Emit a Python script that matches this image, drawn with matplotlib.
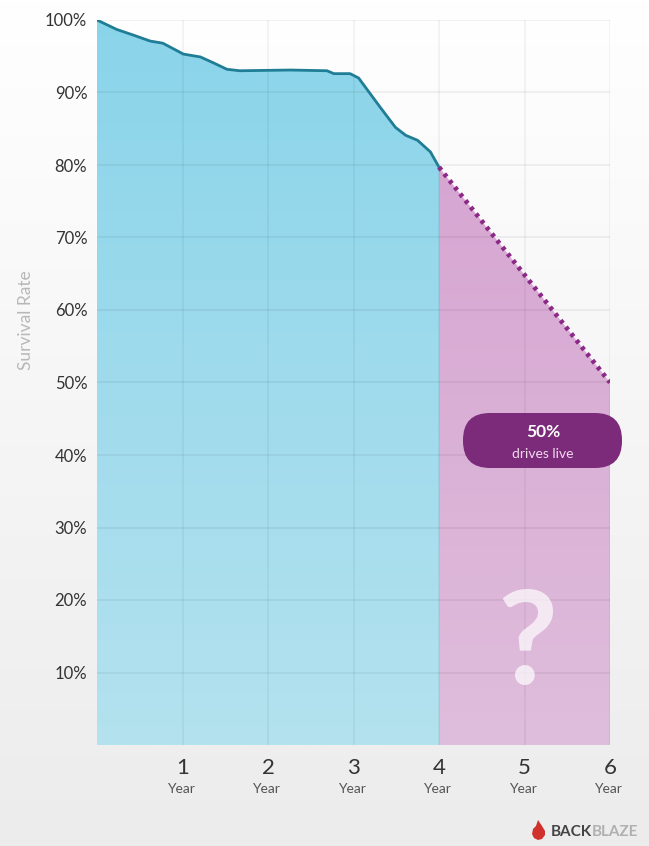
import matplotlib
matplotlib.use("Agg")
import matplotlib.pyplot as plt
import numpy as np
from matplotlib.colors import LinearSegmentedColormap
from matplotlib.patches import FancyBboxPatch, Polygon

plt.rcParams["font.family"] = ["Lato", "DejaVu Sans"]

# observed survival curve, first four years
years = [0, 0.23, 0.43, 0.62, 0.77, 1.01, 1.21, 1.36, 1.52, 1.67, 2.26, 2.69,
         2.77, 2.96, 3.06, 3.31, 3.49, 3.61, 3.75, 3.90, 4.0]
survival = [100, 98.7, 97.9, 97.1, 96.8, 95.3, 94.9, 94.1, 93.2, 93.0, 93.1,
            93.0, 92.6, 92.6, 92.0, 88.0, 85.2, 84.1, 83.4, 81.8, 79.7]

# projected part
proj_years = [4, 6]
proj_survival = [79.7, 50]

y_ticks = [10, 20, 30, 40, 50, 60, 70, 80, 90, 100]
x_ticks = [1, 2, 3, 4, 5, 6]

W, H = 649, 846
fig = plt.figure(figsize=(W / 100, H / 100), dpi=100)


def fx(px):
    return px / W


def fy(py):
    return 1 - py / H


# soft white-to-grey page background
bg = fig.add_axes([0, 0, 1, 1], zorder=-10)
bg.imshow(np.linspace(0, 1, 256).reshape(-1, 1),
          cmap=LinearSegmentedColormap.from_list("bg", ["#ffffff", "#ececec"]),
          aspect="auto", extent=[0, 1, 0, 1], origin="upper")
bg.set_axis_off()

ax = fig.add_axes([fx(97), fy(745), fx(610) - fx(97), fy(20) - fy(745)])
ax.set_facecolor("none")


def gradient_fill(xs, ys, top, bottom):
    verts = [(xs[0], 0)] + list(zip(xs, ys)) + [(xs[-1], 0)]
    poly = Polygon(verts, closed=True, facecolor="none", edgecolor="none")
    ax.add_patch(poly)
    cmap = LinearSegmentedColormap.from_list("g", [top, bottom])
    im = ax.imshow(np.linspace(0, 1, 256).reshape(-1, 1), cmap=cmap,
                   aspect="auto", extent=[xs[0], xs[-1], 0, 100],
                   origin="upper", zorder=1)
    im.set_clip_path(poly)


gradient_fill(years, survival, "#8ad4ea", "#b4e2ef")
gradient_fill(proj_years, proj_survival, "#d4a0cf", "#dfbddc")
ax.set_xlim(0, 6)
ax.set_ylim(0, 100)

# grid
for y in y_ticks:
    ax.axhline(y, color="#000000", alpha=0.06, lw=1.2, zorder=2)
for x in x_ticks:
    ax.axvline(x, color="#000000", alpha=0.05, lw=1.2, zorder=2)

ax.plot(years, survival, color="#1f7d96", lw=2.0, zorder=4,
        solid_capstyle="round")
ax.plot(proj_years, proj_survival, color="#8c2886", lw=3.4,
        ls=(0, (0.8, 1.0)), zorder=4)

for s in ax.spines.values():
    s.set_visible(False)

ax.set_yticks(y_ticks)
ax.set_yticklabels(["%d%%" % v for v in y_ticks], fontsize=12, color="#333333")
ax.tick_params(axis="y", length=0, pad=7)
ax.set_ylabel("Survival Rate", fontsize=12.5, color="#b8b8b8")
ax.yaxis.set_label_coords((34 - 97) / 513, 0.586)

ax.set_xticks([])
for x in x_ticks:
    ax.text(x, -3.2, str(x), ha="center", va="center", fontsize=16,
            color="#333333", clip_on=False)
    ax.text(x - 0.02, -6.1, "Year", ha="center", va="center", fontsize=10,
            color="#555555", clip_on=False)

# pill label for the projected end point (drawn in figure pixels)
r = 27 / W
pill = FancyBboxPatch((fx(463), fy(468)), fx(622) - fx(463), fy(413) - fy(468),
                      boxstyle="round,pad=0,rounding_size=%f" % r,
                      mutation_aspect=W / H, facecolor="#7c2a7a",
                      edgecolor="none", transform=fig.transFigure, zorder=5)
fig.add_artist(pill)
fig.text(fx(543), fy(432), "50%", ha="center", va="center", fontsize=12.5,
         fontweight="bold", color="white", zorder=6)
fig.text(fx(543), fy(454), "drives live", ha="center", va="center",
         fontsize=10, color="#f0dcee", zorder=6)

ax.text(5.03, 13.6, "?", ha="center", va="center", fontsize=94,
        fontweight="bold", color="white", alpha=0.7, zorder=3)

# logo: small flame and wordmark
flame = Polygon([(fx(538), fy(820)), (fx(542), fy(826)), (fx(545), fy(831)),
                 (fx(545), fy(835)), (fx(542), fy(839)), (fx(538), fy(840)),
                 (fx(534), fy(838)), (fx(532), fy(834)), (fx(533), fy(829)),
                 (fx(536), fy(826))],
                closed=True, facecolor="#d0312d", edgecolor="none",
                transform=fig.transFigure)
fig.add_artist(flame)
back = fig.text(fx(551), fy(832), "BACK", fontsize=11, fontweight="bold",
                color="#444444", ha="left", va="center")
fig.canvas.draw()
bb = back.get_window_extent()
fig.text(bb.x1 / W, fy(832), "BLAZE", fontsize=11, fontweight="bold",
         color="#b0b0b0", ha="left", va="center")

fig.savefig("out.png", dpi=100)
